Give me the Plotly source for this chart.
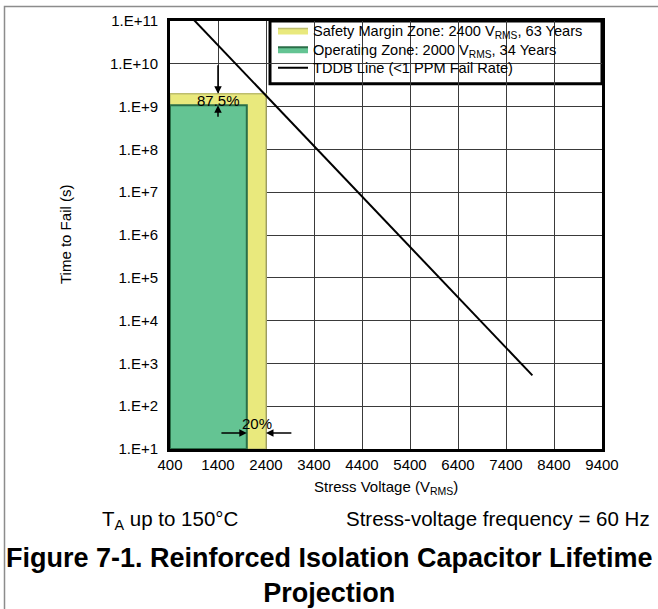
import math
import plotly.graph_objects as go

# ---------------- data ----------------
voltage_ticks = [400, 1400, 2400, 3400, 4400, 5400, 6400, 7400, 8400, 9400]
time_exponents = [1, 2, 3, 4, 5, 6, 7, 8, 9, 10, 11]
time_tick_labels = ["1.E+%d" % e for e in time_exponents]

v_min = 400
t_min = 1e1
safety_voltage = 2400
safety_time = 1.99e9       # 63 years
operating_voltage = 2000
operating_time = 1.07e9    # 34 years
tddb_voltage = [800, 7950]
tddb_time = [1.38e11, 5.25e2]

series_names = [
    "Safety Margin Zone: 2400 V<sub>RMS</sub>, 63 Years",
    "Operating Zone: 2000 V<sub>RMS</sub>, 34 Years",
    "TDDB Line (<1 PPM Fail Rate)",
]
margin_pct_time = "87.5%"
margin_pct_voltage = "20%"

# ---------------- figure ----------------
FONT = "Liberation Sans, Arial, Helvetica, sans-serif"
W, H = 658, 609
L, R, T, B = 170, 56, 19, 160
PW, PH = W - L - R, H - T - B


def px_x(p):
    return (p - L) / PW


def px_y(p):
    return (T + PH - p) / PH


def rect(v0, v1, t0, t1):
    return [v0, v1, v1, v0, v0], [t0, t0, t1, t1, t0]


fig = go.Figure()

sx, sy = rect(v_min, safety_voltage, t_min, safety_time)
fig.add_trace(go.Scatter(
    x=sx, y=sy, mode="lines", fill="toself",
    fillcolor="#E9E97D", line=dict(color="#BDBD6E", width=1.5),
    name=series_names[0], legend="legend", hoverinfo="skip"))

ox, oy = rect(v_min, operating_voltage, t_min, operating_time)
fig.add_trace(go.Scatter(
    x=ox, y=oy, mode="lines", fill="toself",
    fillcolor="#64C493", line=dict(color="#2B6E48", width=2),
    name=series_names[1], legend="legend2", hoverinfo="skip"))

fig.add_trace(go.Scatter(
    x=tddb_voltage, y=tddb_time, mode="lines",
    line=dict(color="black", width=2),
    name=series_names[2], legend="legend3", hoverinfo="skip"))

ann = []
arrow = dict(showarrow=True, arrowhead=2, arrowsize=1, arrowwidth=1.5,
             arrowcolor="black", xref="x", yref="y", axref="x", ayref="y", text="")
# vertical margin arrows (87.5%)
ann.append(dict(arrow, x=1400, y=math.log10(safety_time), ax=1400, ay=10.0))
ann.append(dict(arrow, x=1400, y=math.log10(operating_time), ax=1400, ay=8.73))
ann.append(dict(x=1420, y=9.15, xref="x", yref="y", text=margin_pct_time,
                xanchor="center", yanchor="middle",
                showarrow=False, font=dict(family=FONT, size=15, color="black")))
# horizontal margin arrows (20%)
ann.append(dict(arrow, x=operating_voltage, y=math.log10(23.5), ax=1440, ay=math.log10(23.5)))
ann.append(dict(arrow, x=safety_voltage, y=math.log10(23.5), ax=2960, ay=math.log10(23.5)))
ann.append(dict(x=2220, y=1.6, xref="x", yref="y", text=margin_pct_voltage,
                xanchor="center", yanchor="middle",
                showarrow=False, font=dict(family=FONT, size=15, color="black")))


def note(text, x, y, size, xanchor="center", angle=0):
    return dict(x=x, y=y, xref="paper", yref="paper", text=text, textangle=angle,
                xanchor=xanchor, yanchor="middle", showarrow=False, align="center",
                font=dict(family=FONT, size=size, color="black"))


# axis titles
ann.append(note("Time to Fail (s)", px_x(65), 0.5, 15, angle=-90))
ann.append(note("Stress Voltage (V<sub>RMS</sub>)", 0.5, px_y(488), 15))
# notes
ann.append(note("T<sub>A</sub> up to 150°C", px_x(100), px_y(520), 20.5, xanchor="left"))
ann.append(note("Stress-voltage frequency = 60 Hz", px_x(652), px_y(519), 20.5, xanchor="right"))
# caption (two centred lines)
ann.append(note("<b>Figure 7-1. Reinforced Isolation Capacitor Lifetime</b><br><b>Projection</b>",
                px_x(329), px_y(576), 27))

shapes = [
    # outer gray frame
    dict(type="rect", xref="paper", yref="paper",
         x0=px_x(4.5), x1=px_x(700), y0=px_y(700), y1=px_y(4.5),
         line=dict(color="#8C8C8C", width=1.5), fillcolor="rgba(0,0,0,0)",
         layer="below"),
    # legend box
    dict(type="rect", xref="paper", yref="paper",
         x0=px_x(270), x1=1, y0=px_y(82), y1=1,
         line=dict(color="black", width=3), fillcolor="white",
         layer="between"),
]

leg_common = dict(x=px_x(273), xanchor="left", yanchor="middle",
                  bgcolor="rgba(0,0,0,0)", borderwidth=0,
                  font=dict(family=FONT, size=14.6, color="black"),
                  itemwidth=30)

fig.update_layout(
    width=W, height=H,
    margin=dict(l=L, r=R, t=T, b=B, pad=0),
    paper_bgcolor="white", plot_bgcolor="white",
    font=dict(family=FONT, size=15, color="black"),
    showlegend=True,
    legend=dict(leg_common, y=px_y(28.5)),
    legend2=dict(leg_common, y=px_y(47.3)),
    legend3=dict(leg_common, y=px_y(66)),
    annotations=ann,
    shapes=shapes,
)

fig.update_xaxes(
    range=[voltage_ticks[0], voltage_ticks[-1]],
    tickvals=voltage_ticks, ticktext=[str(v) for v in voltage_ticks],
    showgrid=True, gridcolor="#3A3A3A", gridwidth=1,
    showline=True, linecolor="black", linewidth=3, mirror=True,
    ticks="", zeroline=False, tickfont=dict(family=FONT, size=15),
)
fig.update_yaxes(
    type="log", range=[time_exponents[0], time_exponents[-1]],
    tickvals=[10 ** e for e in time_exponents], ticktext=time_tick_labels,
    showgrid=True, gridcolor="#3A3A3A", gridwidth=1,
    showline=True, linecolor="black", linewidth=3, mirror=True,
    ticks="", zeroline=False, tickfont=dict(family=FONT, size=15),
    ticklabelstandoff=6,
)

fig.write_html("out.html", config={"displayModeBar": False},
               post_script="document.body.style.margin='0';")
